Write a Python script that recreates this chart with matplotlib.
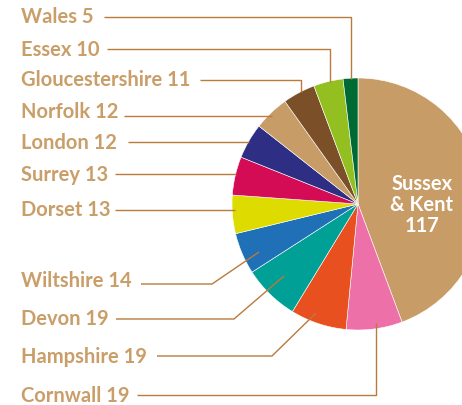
import matplotlib
matplotlib.use("Agg")
import matplotlib.pyplot as plt

# regions, in clockwise order from 12 o'clock
regions = ["Sussex & Kent", "Cornwall", "Hampshire", "Devon", "Wiltshire", "Dorset",
           "Surrey", "London", "Norfolk", "Gloucestershire", "Essex", "Wales"]
counts = [117, 19, 19, 19, 14, 13, 13, 12, 12, 11, 10, 5]
colors = ["#c89c66", "#ee70a8", "#e8511f", "#00a096", "#1f70b6", "#dedb00",
          "#d40c56", "#2e2f84", "#c89c66", "#7b4f27", "#93c020", "#006a35"]

TAN = "#c99e68"
LINE = "#b97a3c"
W, H = 462, 406

# label text position (pixels from top) and leader line path per region
label_y = {"Wales": 17, "Essex": 50, "Gloucestershire": 80, "Norfolk": 112,
           "London": 143, "Surrey": 175, "Dorset": 210, "Wiltshire": 281,
           "Devon": 319, "Hampshire": 357, "Cornwall": 396}
leaders = {
    "Wales": [(104, 18), (351, 18), (351, 80)],
    "Essex": [(107, 50), (330, 50), (330, 83)],
    "Gloucestershire": [(200, 81), (301, 81), (301, 93)],
    "Norfolk": [(124, 117), (272, 117)],
    "London": [(128, 143), (249, 143)],
    "Surrey": [(115, 175), (236, 175)],
    "Dorset": [(115, 211), (235, 211)],
    "Wiltshire": [(141, 285), (212, 285), (259, 253)],
    "Devon": [(116, 320), (234, 320), (284, 277)],
    "Hampshire": [(157, 357), (272, 357), (316, 314)],
    "Cornwall": [(137, 396), (376, 396), (376, 324)],
}

fig = plt.figure(figsize=(W / 100, H / 100), dpi=100)
ax = fig.add_axes([0, 0, 1, 1])

ax.pie(counts, colors=colors, startangle=90, counterclock=False,
       center=(358, H - 205), radius=126,
       wedgeprops=dict(linewidth=0.4, edgecolor="white"))
ax.set_xlim(0, W)
ax.set_ylim(0, H)
ax.set_aspect("equal")
ax.axis("off")

for name, n in zip(regions, counts):
    if name not in label_y:
        continue
    ax.text(21, H - label_y[name], f"{name} {n}", color=TAN, fontsize=14.5,
            fontweight="bold", family="Lato", ha="left", va="center")
    xs = [p[0] for p in leaders[name]]
    ys = [H - p[1] for p in leaders[name]]
    ax.plot(xs, ys, color=LINE, lw=1.0, solid_capstyle="butt")

ax.text(422, H - 205, f"Sussex\n& Kent\n{counts[0]}", color="white",
        fontsize=14.5, fontweight="bold", family="Lato", ha="center",
        va="center", linespacing=1.05)

fig.savefig("out.png", dpi=100)
